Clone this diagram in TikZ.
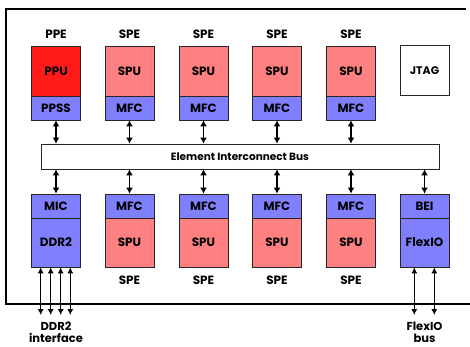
\documentclass[tikz,border=0pt]{standalone}
\usepackage{fontspec}
\setmainfont{Poppins}
\usetikzlibrary{arrows.meta,calc}
\definecolor{ppured}{HTML}{FF1A1A}
\definecolor{spupink}{HTML}{FF8080}
\definecolor{mfcblue}{HTML}{8080FF}
\tikzset{
  unit/.style={draw=black!85, line width=0.8pt, minimum width=49pt, inner sep=0pt, font=\bfseries\fontsize{12}{14}\selectfont},
  upperbig/.style={unit, minimum height=50pt},
  lowersmall/.style={unit, minimum height=24pt},
  lbl/.style={font=\bfseries\fontsize{12}{14}\selectfont, inner sep=0pt},
  busarrow/.style={line width=1.5pt, {Latex[length=6pt,width=7pt]}-{Latex[length=6pt,width=7pt]}},
  ioarrow/.style={line width=0.9pt, {Latex[length=6pt,width=6pt]}-{Latex[length=6pt,width=6pt]}},
  frame/.style={line width=1.1pt}
}
\begin{document}
\begin{tikzpicture}[x=1pt,y=-1pt]
\useasboundingbox (0,0) rectangle (470,347);
% frame
\draw[frame] (466,9) -- (6,9) -- (6,304) -- (470,304);
% top row
\node[upperbig, fill=ppured] (ppu) at (56,71) {PPU};
\node[lowersmall, fill=mfcblue] (ppss) at (56,108) {PPSS};
\node[lbl] (ppe) at (56,34) {PPE};
\foreach \i/\x in {1/129.5,2/203.5,3/277,4/351}{
  \node[upperbig, fill=spupink] (tspu\i) at (\x,71) {SPU};
  \node[lowersmall, fill=mfcblue] (tmfc\i) at (\x,108) {MFC};
  \node[lbl] (tspe\i) at (\x,34) {SPE};
}
\node[upperbig, fill=white, font=\bfseries\fontsize{11}{13}\selectfont] (jtag) at (424.5,70.5) {JTAG};
% bus
\node[draw=black!85, line width=0.8pt, fill=white, minimum width=398pt, minimum height=25pt, inner sep=0pt,
  font=\bfseries\fontsize{10.5}{12}\selectfont] (bus) at (240,156.5) {Element Interconnect Bus};
% bottom row
\node[lowersmall, fill=mfcblue] (mic) at (56,206) {MIC};
\node[upperbig, minimum height=49pt, fill=mfcblue] (ddr) at (56,242.5) {DDR2};
\foreach \i/\x in {1/129.5,2/203.5,3/277,4/351}{
  \node[lowersmall, fill=mfcblue] (bmfc\i) at (\x,206) {MFC};
  \node[upperbig, minimum height=49pt, fill=spupink] (bspu\i) at (\x,242.5) {SPU};
  \node[lbl] (bspe\i) at (\x,280) {SPE};
}
\node[lowersmall, fill=mfcblue] (bei) at (424.5,206) {BEI};
\node[upperbig, minimum height=49pt, fill=mfcblue] (flexio) at (424.5,242.5) {FlexIO};
% bus arrows
\draw[busarrow] (ppss.south) -- (ppss.south |- bus.north);
\foreach \i in {1,2,3,4}{
  \draw[busarrow] (tmfc\i.south) -- (tmfc\i.south |- bus.north);
  \draw[busarrow] (bus.south -| bmfc\i.north) -- (bmfc\i.north);
}
\draw[busarrow] (bus.south -| mic.north) -- (mic.north);
\draw[busarrow] (bus.south -| bei.north) -- (bei.north);
% io arrows
\foreach \i/\x in {1/40.7,2/50.7,3/60.7,4/70.3}{
  \coordinate (d\i) at (\x,315);
  \draw[ioarrow] (d\i |- ddr.south) -- (d\i);
}
\coordinate (f1) at (414.3,315);
\coordinate (f2) at (434.3,315);
\draw[ioarrow] (f1 |- flexio.south) -- (f1);
\draw[ioarrow] (f2 |- flexio.south) -- (f2);
\node[lbl, align=center, font=\bfseries\fontsize{11.5}{12}\selectfont] (ddrlbl) at (56,332) {DDR2\\interface};
\node[lbl, align=center, font=\bfseries\fontsize{11.5}{12}\selectfont] (fiolbl) at (424.5,332) {FlexIO\\bus};
\end{tikzpicture}
\end{document}
